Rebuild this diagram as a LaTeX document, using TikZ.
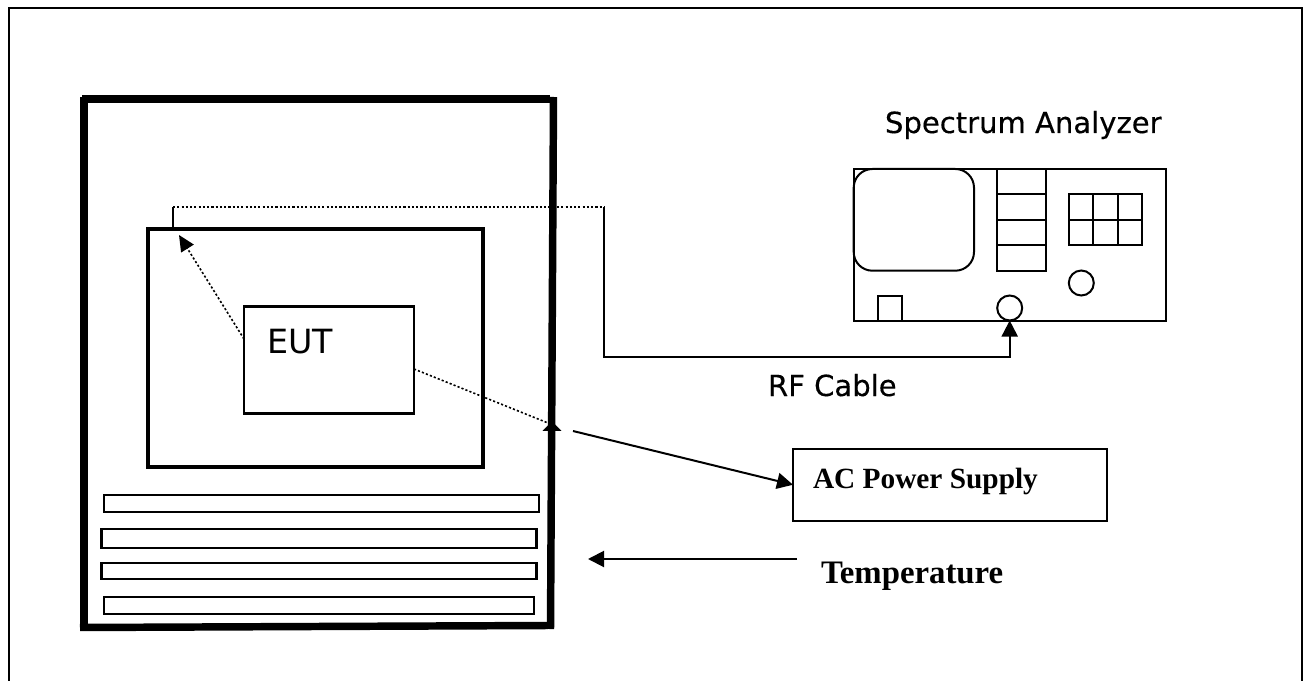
\documentclass[tikz,border=0pt]{standalone}
\usepackage{fontspec}
\setmainfont{Liberation Serif}
\setsansfont{DejaVu Sans}
\newfontfamily\heavysans[FakeBold=0.35]{DejaVu Sans}
\usepackage{tikz}
\usetikzlibrary{arrows.meta, positioning}
\def\px{0.75pt}
\def\labelSize{21.8}
\newcommand{\sflabel}[1]{\fontsize{#1}{#1}\selectfont\sffamily}
\newcommand{\hslabel}[1]{\fontsize{#1}{#1}\selectfont\heavysans}
\newcommand{\rmlabel}[1]{\fontsize{#1}{#1}\selectfont\bfseries}

\begin{document}
\begin{tikzpicture}[
    x=0.75pt, y=-0.75pt,
    line width=1.5pt,
    >={Triangle[length=12pt,width=12pt]},
    box/.style 2 args={draw, inner sep=0pt, outer sep=0pt, minimum width=#1*\px, minimum height=#2*\px},
    knob/.style={draw, circle, inner sep=0pt, outer sep=0pt, minimum size=25*\px},
    caption/.style={inner sep=0pt, outer sep=0pt, anchor=base west},
    dotline/.style={line width=1.2pt, dash pattern=on 1.6pt off 1.6pt}
]
\useasboundingbox (0,0) rectangle (1306,681);

% page frame, open at the bottom
\coordinate (frameA) at (9,681);
\coordinate (frameB) at (9,8);
\coordinate (frameC) at (1302,8);
\coordinate (frameD) at (1302,681);
\draw[line width=1.6pt] (frameA) -- (frameB) -- (frameC) -- (frameD);

% EUT and fixture
\node[box={335}{238}, line width=3pt] (fixture) at (315.5,348) {};
\node[box={170}{106.5}, line width=2.2pt] (eut) at (329,360) {};
\node[caption, font=\sflabel{25}] (eutText) at (267,353) {EUT};

% chamber walls
\coordinate (wallTL) at (84,97);
\coordinate (wallBL) at (84,631);
\coordinate (wallTR) at (550,99);
\coordinate (wallTL2) at (82,99);
\coordinate (wallR1) at (553.5,97);
\coordinate (wallR2) at (550.5,629);
\coordinate (wallB1) at (80,627.5);
\coordinate (wallB2) at (548,625.5);

% shelves
\foreach \i/\cx/\cy/\w/\h in {1/321.2/503.3/435/16.7, 2/319/538.5/435/18.4, 3/319/571.3/435/16, 4/319/605.5/430.6/17}
    \node[box={\w}{\h}, line width=1.6pt] (shelf\i) at (\cx,\cy) {};

% dotted paths inside the chamber
\coordinate (tapIn) at (173,229);
\coordinate (tapUp) at (173,207);
\coordinate (tapOut) at (604,207);
\coordinate (eutOutL) at (244,339);
\coordinate (tipL) at (179,235);
\coordinate (eutOutR) at (414,369);
\coordinate (wallHit) at (548,423);
\draw[dotline, -{Triangle[length=12pt,width=11pt]}] (eutOutL) -- (tipL);
\draw[dotline] (eutOutR) -- (wallHit);
\draw[dotline] (tapUp) -- (tapOut);

\draw[line width=5.6pt] (wallTL) -- (wallBL);
\draw[line width=5.6pt] (wallTL2) -- (wallTR);
\draw[line width=5.6pt] (wallR1) -- (wallR2);
\draw[line width=5.6pt] (wallB1) -- (wallB2);

% mark on the right wall
\coordinate (markBase) at (552,431);
\coordinate (markTip) at (552,421.5);
\draw[-{Triangle[length=7pt,width=14pt]}, line width=0.5pt] (markBase) -- (markTip);

% spectrum analyzer
\node[caption, font=\hslabel{\labelSize}] (saText) at (885,133) {Spectrum Analyzer};
\node[box={312}{152}] (analyzer) at (1009.7,245) {};
\node[box={120.3}{101.7}, rounded corners=14pt] (screen) at (913.85,219.85) {};
\foreach \i/\cy in {1/181.7, 2/207, 3/232.4, 4/257.9}
    \node[box={48.7}{25.4}] (softkey\i) at (1021.65,\cy) {};
\foreach \i/\cx in {1/1081.3, 2/1105.5, 3/1129.7}
    \foreach \j/\cy in {1/207, 2/232.4}
        \node[box={24.2}{25.4}] (keypad\i\j) at (\cx,\cy) {};
\node[knob] (dial) at (1081.3,283) {};
\node[knob] (port) at (1009.7,308) {};
\node[box={24.3}{25.3}] (power) at (889.85,308.35) {};

% RF cable
\coordinate (cableBend) at (604,357);
\draw (tapIn) -- (tapUp);
\draw[->] (tapOut) -- (cableBend) -| (port.south);
\node[caption, font=\hslabel{\labelSize}] (rfText) at (768,396) {RF Cable};

% AC supply
\node[box={314}{71.5}] (supply) at (950,484.75) {};
\node[caption, font=\rmlabel{22}] (supplyText) at (813,488) {AC Power Supply};
\coordinate (supplyFrom) at (573,431);
\draw[->] (supplyFrom) -- (supply.west);

% temperature
\node[caption, font=\rmlabel{24.6}] (tempText) at (821,583.5) {Temperature};
\coordinate (tempFrom) at (797,559);
\coordinate (tempTo) at (588,559);
\draw[->] (tempFrom) -- (tempTo);
\end{tikzpicture}
\end{document}
